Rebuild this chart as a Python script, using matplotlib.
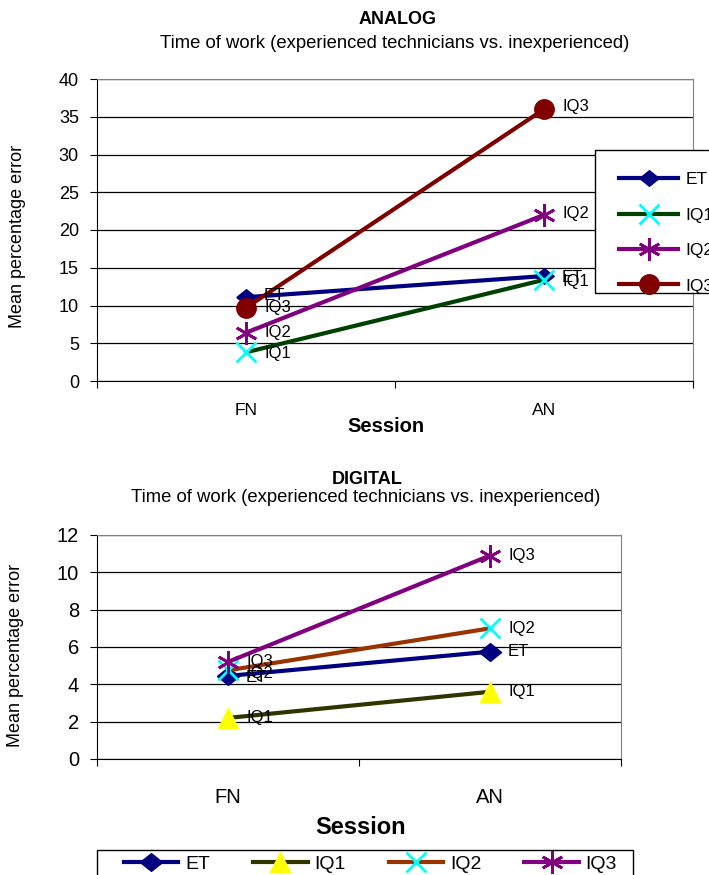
import matplotlib.pyplot as plt
from matplotlib.lines import Line2D
from matplotlib.patches import Rectangle

plt.rcParams['font.family'] = ['Liberation Sans', 'DejaVu Sans']

sessions = ['FN', 'AN']
series = ['ET', 'IQ1', 'IQ2', 'IQ3']

# analog session errors
analog_et = [11.1, 13.9]
analog_iq1 = [3.8, 13.4]
analog_iq2 = [6.4, 22.0]
analog_iq3 = [9.7, 36.0]

# digital session errors
digital_et = [4.45, 5.75]
digital_iq1 = [2.2, 3.6]
digital_iq2 = [4.75, 7.0]
digital_iq3 = [5.2, 10.9]

W, H = 709, 875
fig = plt.figure(figsize=(W / 100, H / 100), dpi=100)

# slightly wide diamond, like the spreadsheet markers
wide_diamond = [(-1.25, 0), (0, 1), (1.25, 0), (0, -1), (-1.25, 0)]
STAR = (6, 2, 0)


def box(l, t, r, b):
    return [l / W, 1 - b / H, (r - l) / W, (b - t) / H]


def fx(px):
    return px / W


def fy(py):
    return 1 - py / H


def style_axes(ax, ymax, ystep, fs_y, fs_x, xpad):
    ax.set_xlim(0, 2)
    ax.set_ylim(0, ymax)
    ax.set_yticks(range(0, ymax + 1, ystep))
    ax.yaxis.grid(True, color='black', lw=0.9)
    ax.set_axisbelow(True)
    ax.set_xticks([0, 1, 2])
    ax.set_xticklabels([])
    ax.set_xticks([0.5, 1.5], minor=True)
    ax.set_xticklabels(sessions, minor=True, fontsize=fs_x)
    ax.tick_params(axis='x', which='minor', length=0, pad=xpad)
    ax.tick_params(axis='x', which='major', length=5, direction='out')
    ax.tick_params(axis='y', length=5, direction='out', labelsize=fs_y, pad=8)
    for s in ['top', 'right']:
        ax.spines[s].set_color('#808080')
    for s in ['left', 'bottom']:
        ax.spines[s].set_color('black')


def plot_series(ax, vals, color, mk, mfc, mec, ms, mew, name, offs):
    x = [0.5, 1.5]
    ax.plot(x, vals, color=color, lw=3, marker=mk, ms=ms,
            markerfacecolor=mfc, markeredgecolor=mec, mew=mew,
            zorder=3, clip_on=False)
    for xi, yi, dy in zip(x, vals, offs):
        ax.annotate(name, (xi, yi), xytext=(13, dy), textcoords='offset points',
                    fontsize=12, va='center', ha='left', zorder=4)


# ---------- ANALOG ----------
ax1 = fig.add_axes(box(97, 79, 693, 381))
style_axes(ax1, 40, 5, 13, 12.5, 16)
plot_series(ax1, analog_et, '#000080', wide_diamond, '#000080', '#000080', 14, 1, 'ET', [1, -1])
plot_series(ax1, analog_iq1, '#004000', 'x', '#00ffff', '#00ffff', 14, 2, 'IQ1', [-1, -1])
plot_series(ax1, analog_iq2, '#800080', STAR, '#800080', '#800080', 16, 2, 'IQ2', [0, 1])
plot_series(ax1, analog_iq3, '#800000', 'o', '#800000', '#800000', 14, 1, 'IQ3', [0, 2])

fig.text(fx(398), fy(19), 'ANALOG', ha='center', va='center',
         fontsize=13, fontweight='bold')
fig.text(fx(395), fy(43),
         'Time of work (experienced technicians vs. inexperienced)',
         ha='center', va='center', fontsize=13.3)
fig.text(fx(386), fy(426), 'Session', ha='center', va='center',
         fontsize=14.5, fontweight='bold')
fig.text(fx(18), fy(236), 'Mean percentage error', rotation=90,
         ha='center', va='center', fontsize=13)

handles1 = [
    Line2D([], [], color='#000080', lw=3, marker=wide_diamond, ms=14, mfc='#000080', mec='#000080'),
    Line2D([], [], color='#004000', lw=3, marker='x', ms=14, mec='#00ffff', mew=2),
    Line2D([], [], color='#800080', lw=3, marker=STAR, ms=16, mec='#800080', mew=2),
    Line2D([], [], color='#800000', lw=3, marker='o', ms=14, mfc='#800000', mec='#800000'),
]
fig.add_artist(Rectangle((fx(595), fy(293)), fx(130), (293 - 150) / H,
                         transform=fig.transFigure, facecolor='white',
                         edgecolor='black', lw=1, zorder=4))
leg1 = fig.legend(handles1, series, loc='upper left', bbox_to_anchor=(fx(619), fy(172)),
                  frameon=False, fontsize=12.5, handlelength=3.4, labelspacing=1.17,
                  borderpad=0, borderaxespad=0, handletextpad=0.45)
leg1.set_zorder(5)

# ---------- DIGITAL ----------
ax2 = fig.add_axes(box(97, 535, 621, 759))
style_axes(ax2, 12, 2, 14.5, 14.5, 21)
plot_series(ax2, digital_et, '#000080', wide_diamond, '#000080', '#000080', 16, 1, 'ET', [-1, 0])
plot_series(ax2, digital_iq1, '#333300', '^', '#ffff00', '#ffff00', 15, 1, 'IQ1', [0, 0])
plot_series(ax2, digital_iq2, '#993300', 'x', '#00ffff', '#00ffff', 15, 2, 'IQ2', [-2, 0])
plot_series(ax2, digital_iq3, '#800080', STAR, '#800080', '#800080', 16, 2, 'IQ3', [0, 0])

fig.text(fx(367), fy(480), 'DIGITAL', ha='center', va='center',
         fontsize=13, fontweight='bold')
fig.text(fx(366), fy(498),
         'Time of work (experienced technicians vs. inexperienced)',
         ha='center', va='center', fontsize=13.3)
fig.text(fx(361), fy(827), 'Session', ha='center', va='center',
         fontsize=17, fontweight='bold')
fig.text(fx(16), fy(655), 'Mean percentage error', rotation=90,
         ha='center', va='center', fontsize=13)

handles2 = [
    Line2D([], [], color='#000080', lw=3, marker=wide_diamond, ms=16, mfc='#000080', mec='#000080'),
    Line2D([], [], color='#333300', lw=3, marker='^', ms=15, mfc='#ffff00', mec='#ffff00'),
    Line2D([], [], color='#993300', lw=3, marker='x', ms=15, mec='#00ffff', mew=2),
    Line2D([], [], color='#800080', lw=3, marker=STAR, ms=16, mec='#800080', mew=2),
]
fig.add_artist(Rectangle((fx(97), fy(890)), fx(536), 40 / H,
                         transform=fig.transFigure, facecolor='white',
                         edgecolor='black', lw=1, zorder=4))
leg2 = fig.legend(handles2, series, loc='upper left', bbox_to_anchor=(fx(124), fy(855)),
                  ncol=4, frameon=False, fontsize=14, handlelength=2.8,
                  columnspacing=2.2, borderpad=0, borderaxespad=0, handletextpad=0.36)
leg2.set_zorder(5)

fig.savefig('out.png', dpi=100)
